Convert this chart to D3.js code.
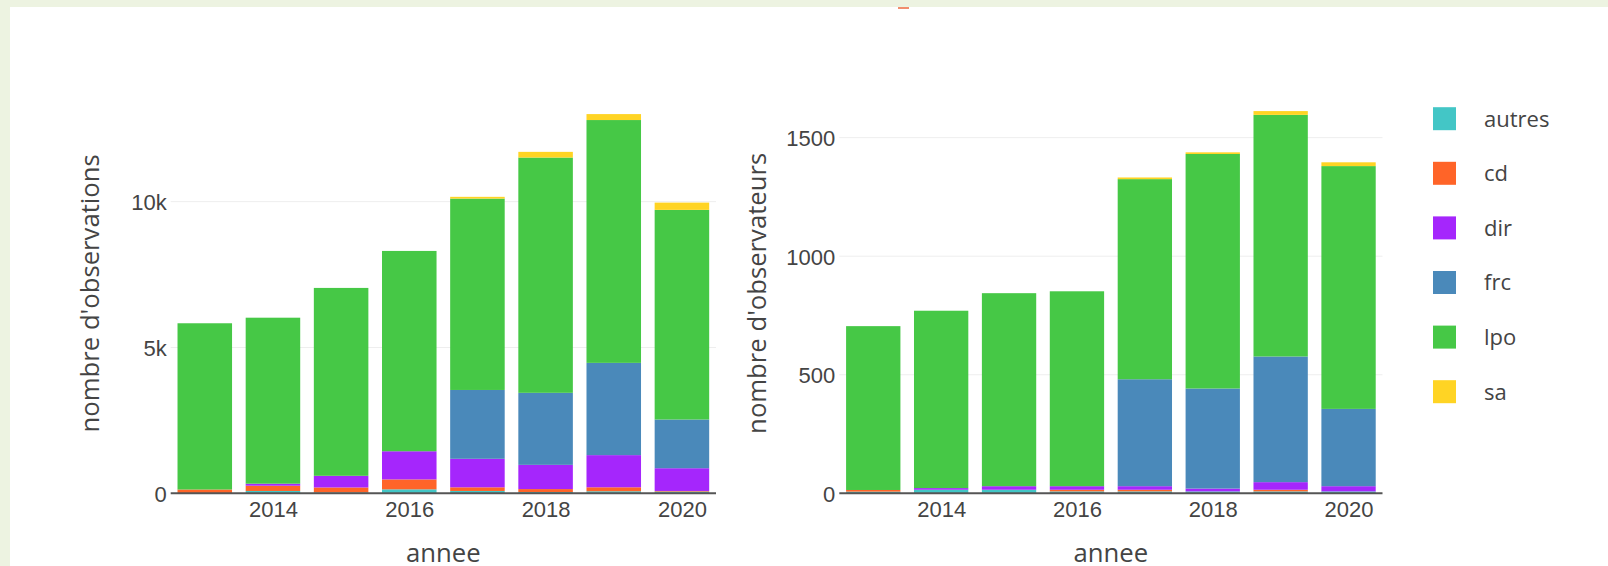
<!DOCTYPE html>
<html>
<head>
<meta charset="utf-8">
<script src="https://cdn.jsdelivr.net/npm/d3@7"></script>
<style>
  body { margin: 0; background: #fff; }
  svg { display: block; font-family: "Open Sans", sans-serif; }
</style>
</head>
<body>
<div id="chart"></div>
<script>
// Observations / observateurs par annee et par structure
const years = [2013, 2014, 2015, 2016, 2017, 2018, 2019, 2020];
const groups = ["autres", "cd", "dir", "frc", "lpo", "sa"];
const colors = ["#43c6c6", "#ff6428", "#a526fc", "#4a89ba", "#46c846", "#ffd424"];

// nombre d'observations
const obsAutres = [10, 80, 30, 136, 80, 45, 70, 60];
const obsCd     = [120, 180, 170, 340, 125, 100, 136, 20];
const obsDir    = [0, 70, 400, 966, 978, 830, 1103, 780];
const obsFrc    = [0, 0, 0, 0, 2360, 2470, 3163, 1670];
const obsLpo    = [5700, 5691, 6442, 6868, 6562, 8067, 8326, 7188];
const obsSa     = [0, 0, 0, 0, 60, 195, 204, 249];

// nombre d'observateurs
const obsvAutres = [7, 15, 15, 8, 8, 8, 8, 8];
const obsvCd     = [7, 0, 0, 7, 7, 0, 7, 0];
const obsvDir    = [0, 7, 15, 15, 15, 12, 32, 22];
const obsvFrc    = [0, 0, 0, 0, 451, 422, 530, 326];
const obsvLpo    = [691, 748, 814, 822, 844, 989, 1019, 1024];
const obsvSa     = [0, 0, 0, 0, 7, 7, 16, 16];

const xTicks = [2014, 2016, 2018, 2020];
const leftTicks = [0, 5000, 10000];
const leftTickLabels = ["0", "5k", "10k"];
const rightTicks = [0, 500, 1000, 1500];
const rightTickLabels = ["0", "500", "1000", "1500"];

const width = 1608, height = 566;
const svg = d3.select("#chart").append("svg")
    .attr("width", width)
    .attr("height", height);

// page frame
svg.append("rect").attr("x", 0).attr("y", 0).attr("width", width).attr("height", 7).attr("fill", "#edf3e1");
svg.append("rect").attr("x", 0).attr("y", 0).attr("width", 10).attr("height", height).attr("fill", "#edf3e1");
svg.append("rect").attr("x", 898).attr("y", 7).attr("width", 11).attr("height", 2).attr("fill", "#ee7a55").attr("opacity", 0.85);

function stackRows(series) {
    return years.map((yr, i) => {
        const row = { year: yr };
        groups.forEach((g, j) => row[g] = series[j][i]);
        return row;
    });
}

function drawPanel(opts) {
    const x = d3.scaleLinear().domain([2012.5, 2020.5]).range([opts.left, opts.right]);
    const y = d3.scaleLinear().domain([0, opts.yMax]).range([493.3, 93.3]);
    const g = svg.append("g");

    // grid
    g.selectAll(".grid")
        .data(opts.ticks.filter(d => d > 0))
        .join("line")
        .attr("x1", opts.left).attr("x2", opts.right)
        .attr("y1", d => y(d)).attr("y2", d => y(d))
        .attr("stroke", "#eee").attr("stroke-width", 1);

    const stacked = d3.stack().keys(groups)(stackRows(opts.series));
    g.selectAll(".layer")
        .data(stacked)
        .join("g")
        .attr("fill", (d, i) => colors[i])
        .selectAll("rect")
        .data(d => d)
        .join("rect")
        .attr("x", d => x(d.data.year - 0.4))
        .attr("width", x(2013.4) - x(2012.6))
        .attr("y", d => y(d[1]))
        .attr("height", d => Math.max(0, y(d[0]) - y(d[1])));

    // y axis labels
    const ya = g.append("g")
        .attr("transform", `translate(${opts.left},0)`)
        .call(d3.axisLeft(y).tickValues(opts.ticks).tickSize(0).tickPadding(4)
            .tickFormat((d, i) => opts.tickLabels[i]));
    ya.select(".domain").remove();
    ya.selectAll("text").attr("fill", "#444").style("font-size", "22px").attr("dy", "0.36em");

    // x axis
    const xa = g.append("g")
        .attr("transform", "translate(0,493.3)")
        .call(d3.axisBottom(x).tickValues(xTicks).tickSize(0).tickFormat(d3.format("d")));
    xa.select(".domain").remove();
    xa.selectAll("text").attr("fill", "#444").style("font-size", "22px")
        .attr("dy", null).attr("y", 23.5);

    g.append("line")
        .attr("x1", opts.left).attr("x2", opts.right)
        .attr("y1", 493.3).attr("y2", 493.3)
        .attr("stroke", "#555").attr("stroke-width", 2);

    g.append("text")
        .attr("x", (opts.left + opts.right) / 2)
        .attr("y", 562)
        .attr("text-anchor", "middle")
        .attr("fill", "#444")
        .style("font-size", "25.7px")
        .text("annee");

    g.append("text")
        .attr("transform", `translate(${opts.titleX},293.3) rotate(-90)`)
        .attr("text-anchor", "middle")
        .attr("fill", "#444")
        .style("font-size", "25.7px")
        .text(opts.title);
}

drawPanel({
    left: 170.7, right: 716, yMax: 13715,
    series: [obsAutres, obsCd, obsDir, obsFrc, obsLpo, obsSa],
    ticks: leftTicks, tickLabels: leftTickLabels,
    titleX: 99, title: "nombre d'observations"
});

drawPanel({
    left: 839.3, right: 1382.5, yMax: 1687,
    series: [obsvAutres, obsvCd, obsvDir, obsvFrc, obsvLpo, obsvSa],
    ticks: rightTicks, tickLabels: rightTickLabels,
    titleX: 766, title: "nombre d'observateurs"
});

// legend
const legend = svg.append("g").attr("transform", "translate(1433,118.7)");
groups.forEach((name, i) => {
    const item = legend.append("g").attr("transform", `translate(0,${i * 54.6})`);
    item.append("rect")
        .attr("x", 0).attr("y", -11.5)
        .attr("width", 23).attr("height", 23)
        .attr("fill", colors[i]);
    item.append("text")
        .attr("x", 51).attr("y", 0)
        .attr("dy", "0.36em")
        .attr("fill", "#444")
        .style("font-size", "22px")
        .text(name);
});
</script>
</body>
</html>
